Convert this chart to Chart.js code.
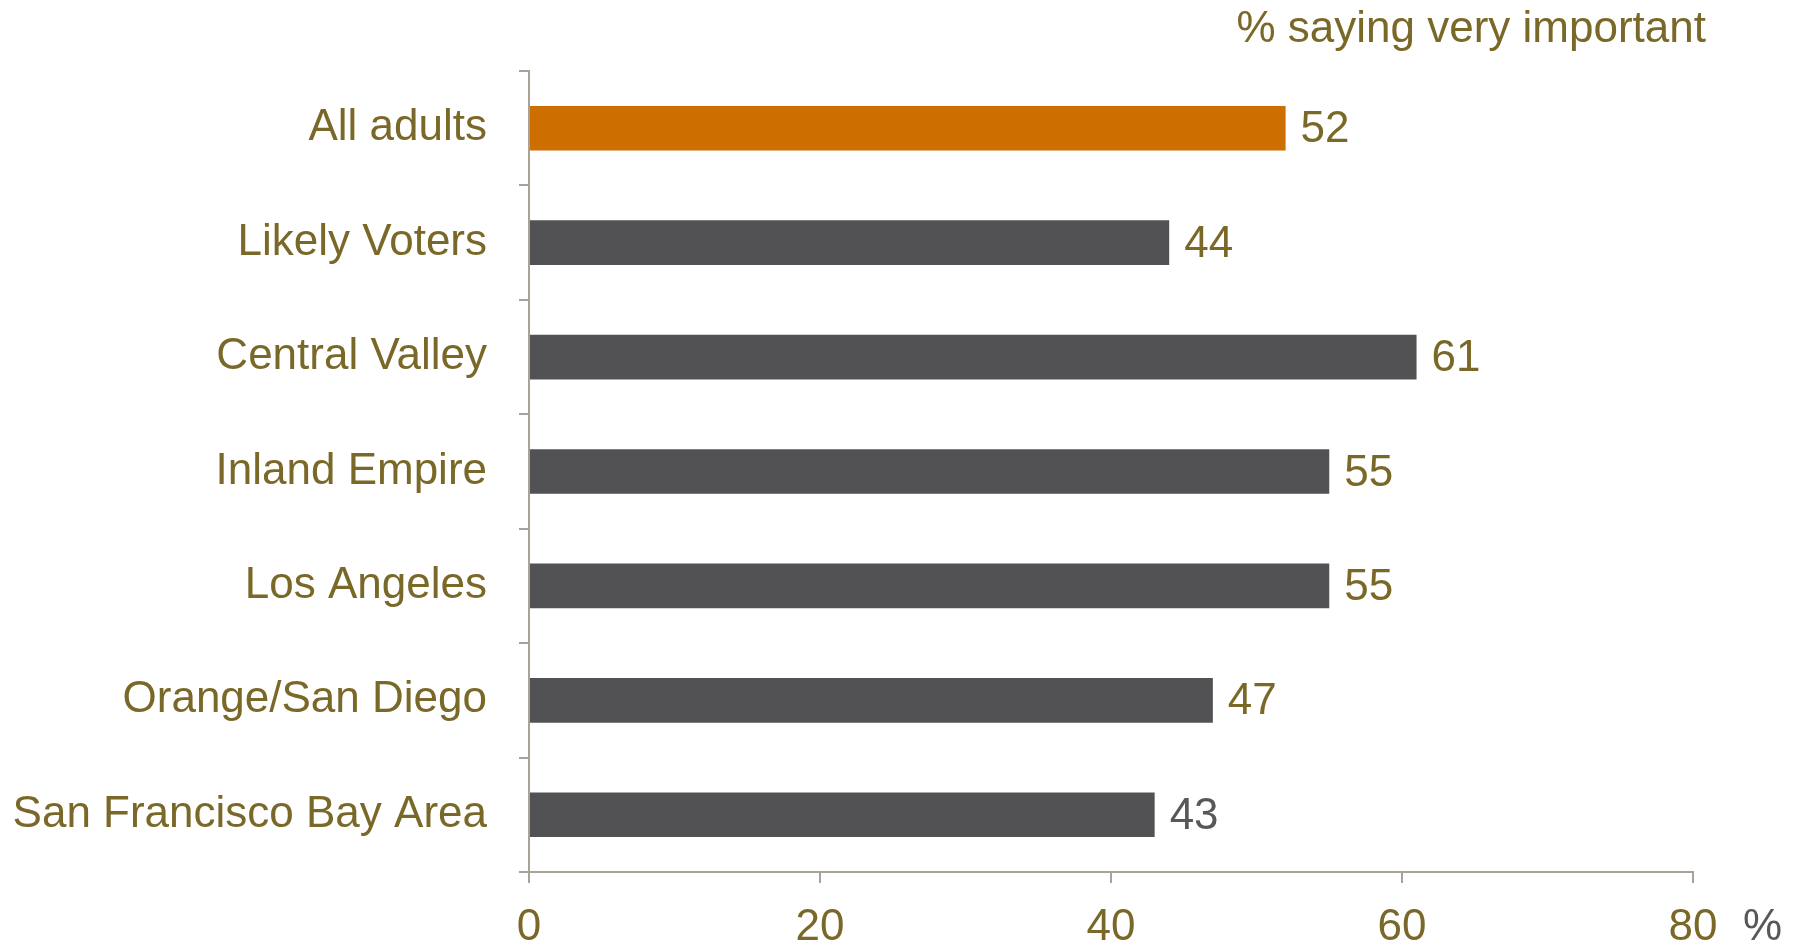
<!DOCTYPE html>
<html>
<head>
<meta charset="utf-8">
<script src="https://cdn.jsdelivr.net/npm/chart.js@4.4.1/dist/chart.umd.min.js"></script>
<style>
  html, body { margin: 0; padding: 0; background: #fff; }
  #wrap { width: 1798px; height: 948px; }
</style>
</head>
<body>
<div id="wrap"><canvas id="chart" width="1798" height="948"></canvas></div>
<script>
const categories = ['All adults', 'Likely Voters', 'Central Valley', 'Inland Empire', 'Los Angeles', 'Orange/San Diego', 'San Francisco Bay Area'];
const values = [52, 44, 61, 55, 55, 47, 43];
const xTicks = [0, 20, 40, 60, 80];
const titleText = '% saying very important';
const unitText = '%';

const OLIVE = '#7a6828';
const GREY_TEXT = '#58585a';
const AXIS = '#a9a296';
const FONT = '"Liberation Sans Narrow", "Arial Narrow", "Liberation Sans", sans-serif';
const FS = 44;

// value labels, title and the trailing % unit
const extras = {
  id: 'extras',
  afterDatasetsDraw(chart) {
    const ctx = chart.ctx;
    const meta = chart.getDatasetMeta(0);
    ctx.save();
    ctx.font = FS + 'px ' + FONT;
    ctx.textBaseline = 'middle';
    ctx.textAlign = 'left';
    meta.data.forEach((bar, i) => {
      ctx.fillStyle = i === values.length - 1 ? GREY_TEXT : OLIVE;
      ctx.fillText(String(values[i]), bar.x + 15, bar.y + 2);
    });
    ctx.textAlign = 'right';
    ctx.textBaseline = 'alphabetic';
    ctx.fillStyle = OLIVE;
    ctx.fillText(titleText, 1706, 42);
    ctx.textAlign = 'left';
    ctx.textBaseline = 'middle';
    ctx.fillStyle = GREY_TEXT;
    const x = chart.scales.x;
    ctx.fillText(unitText, x.getPixelForValue(80) + 50, 928);
    ctx.restore();
  }
};

new Chart(document.getElementById('chart'), {
  type: 'bar',
  data: {
    labels: categories,
    datasets: [{
      data: values,
      backgroundColor: values.map((v, i) => i === 0 ? '#cc6f00' : '#525254'),
      borderWidth: 0,
      barPercentage: 0.39,
      categoryPercentage: 1.0
    }]
  },
  options: {
    indexAxis: 'y',
    responsive: false,
    animation: false,
    layout: { padding: { top: 71, right: 105, left: 0, bottom: 0 } },
    plugins: { legend: { display: false }, tooltip: { enabled: false } },
    scales: {
      y: {
        offset: true,
        grid: { offset: true, drawOnChartArea: false, color: AXIS, tickLength: 10, lineWidth: 2 },
        border: { color: AXIS, width: 2 },
        ticks: { color: OLIVE, font: { family: FONT, size: FS }, padding: 32 },
        afterFit(scale) { scale.width = 529; }
      },
      x: {
        min: 0,
        max: 80,
        afterBuildTicks(scale) { scale.ticks = xTicks.map(v => ({ value: v })); },
        grid: { drawOnChartArea: false, color: AXIS, tickLength: 11, lineWidth: 2 },
        border: { color: AXIS, width: 2 },
        ticks: { color: OLIVE, font: { family: FONT, size: FS }, padding: 18 },
        afterFit(scale) { scale.height = 76; }
      }
    }
  },
  plugins: [extras]
});
</script>
</body>
</html>
